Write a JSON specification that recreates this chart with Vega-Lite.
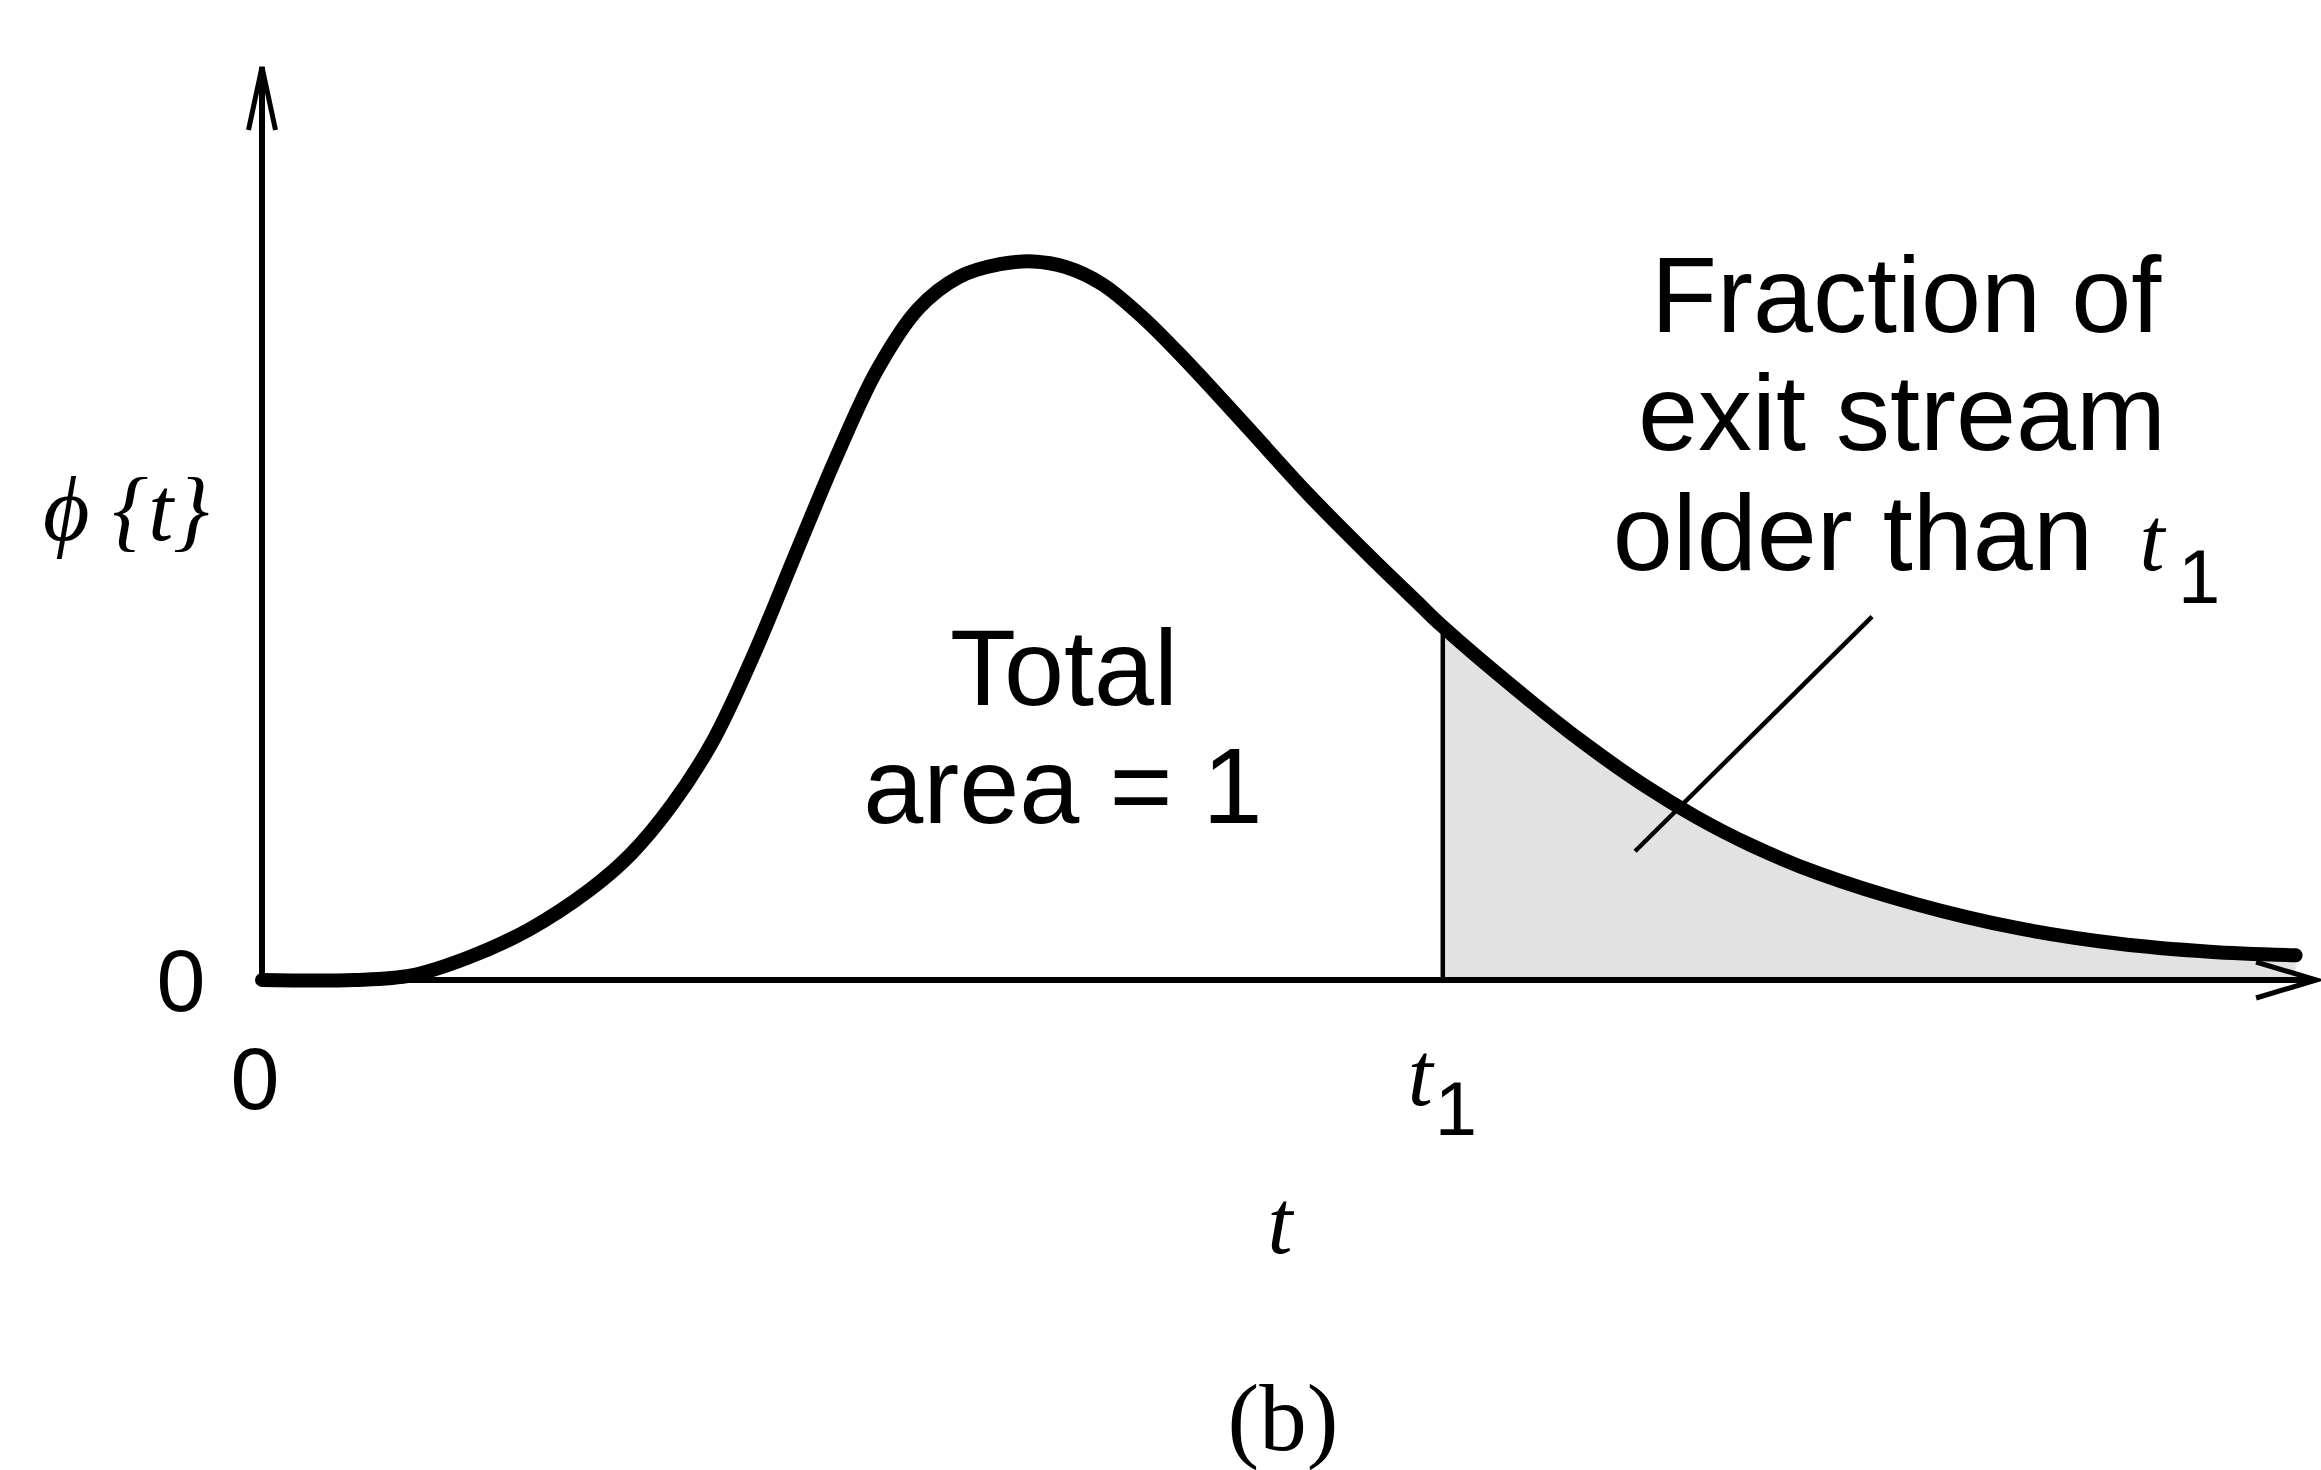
{
  "$schema": "https://vega.github.io/schema/vega-lite/v6.json",
  "width": 2050,
  "height": 913,
  "autosize": {"type": "none"},
  "padding": {"left": 262, "top": 67, "right": 9, "bottom": 490},
  "background": "white",
  "config": {"view": {"stroke": null}},
  "datasets": {
    "curve": [
      {"t": 0, "phi": 0}, {"t": 0.45, "phi": 0.0}, {"t": 0.73, "phi": 0.005}, {"t": 1.0, "phi": 0.024},
      {"t": 1.3, "phi": 0.055}, {"t": 1.6, "phi": 0.099}, {"t": 1.8, "phi": 0.138}, {"t": 2.0, "phi": 0.192},
      {"t": 2.2, "phi": 0.262}, {"t": 2.4, "phi": 0.357}, {"t": 2.6, "phi": 0.465}, {"t": 2.8, "phi": 0.572},
      {"t": 3.0, "phi": 0.668}, {"t": 3.2, "phi": 0.735}, {"t": 3.4, "phi": 0.77}, {"t": 3.6, "phi": 0.784},
      {"t": 3.76, "phi": 0.787}, {"t": 3.92, "phi": 0.781}, {"t": 4.1, "phi": 0.762}, {"t": 4.3, "phi": 0.725},
      {"t": 4.5, "phi": 0.68}, {"t": 4.8, "phi": 0.607}, {"t": 5.1, "phi": 0.533}, {"t": 5.4, "phi": 0.465},
      {"t": 5.63, "phi": 0.415}, {"t": 5.76, "phi": 0.387}, {"t": 6.12, "phi": 0.318}, {"t": 6.44, "phi": 0.261},
      {"t": 6.75, "phi": 0.212}, {"t": 7.0, "phi": 0.178}, {"t": 7.26, "phi": 0.148}, {"t": 7.59, "phi": 0.117},
      {"t": 8.07, "phi": 0.083}, {"t": 8.56, "phi": 0.057}, {"t": 9.05, "phi": 0.04}, {"t": 9.5, "phi": 0.031},
      {"t": 9.92, "phi": 0.027}
    ],
    "segments": [
      {"kind": "axis", "t": 0, "phi": 0, "t2": 0, "phi2": 1},
      {"kind": "axis", "t": 0, "phi": 0, "t2": 10, "phi2": 0},
      {"kind": "guide", "t": 5.76, "phi": 0, "t2": 5.76, "phi2": 0.382},
      {"kind": "guide", "t": 7.854, "phi": 0.398, "t2": 6.698, "phi2": 0.141}
    ],
    "arrows": [
      {"kind": "up", "t": 0, "phi": 1},
      {"kind": "right", "t": 10.02, "phi": 0}
    ],
    "labels": [
      {"group": "sans", "text": "Total", "t": 3.912, "phi": 0.301},
      {"group": "sans", "text": "area = 1", "t": 3.907, "phi": 0.172},
      {"group": "sans", "text": "Fraction of", "t": 8.02, "phi": 0.71},
      {"group": "sans", "text": "exit stream", "t": 8.0, "phi": 0.581},
      {"group": "sans", "text": "older than", "t": 7.76, "phi": 0.449},
      {"group": "ital", "text": "t", "t": 9.22, "phi": 0.449},
      {"group": "sub", "text": "1", "t": 9.45, "phi": 0.413},
      {"group": "tick", "text": "0", "t": -0.395, "phi": -0.034},
      {"group": "tick", "text": "0", "t": -0.034, "phi": -0.141},
      {"group": "ital", "text": "t", "t": 5.65, "phi": -0.137},
      {"group": "sub", "text": "1", "t": 5.824, "phi": -0.17},
      {"group": "ital", "text": "t", "t": 4.966, "phi": -0.299},
      {"group": "serif", "text": "(b)", "t": 4.98, "phi": -0.515},
      {"group": "ital", "text": "ϕ {t}", "t": -0.663, "phi": 0.482}
    ]
  },
  "encoding": {
    "x": {"field": "t", "type": "quantitative", "scale": {"domain": [0, 10], "nice": false, "zero": false}, "axis": null},
    "y": {"field": "phi", "type": "quantitative", "scale": {"domain": [0, 1], "nice": false, "zero": false}, "axis": null}
  },
  "layer": [
    {
      "data": {"name": "curve"},
      "transform": [{"filter": "datum.t >= 5.75"}],
      "mark": {"type": "area", "color": "#e2e2e2", "interpolate": "catmull-rom"}
    },
    {
      "data": {"name": "segments"},
      "transform": [{"filter": "datum.kind == 'axis'"}],
      "mark": {"type": "rule", "color": "black", "strokeWidth": 6},
      "encoding": {"x2": {"field": "t2"}, "y2": {"field": "phi2"}}
    },
    {
      "data": {"name": "segments"},
      "transform": [{"filter": "datum.kind == 'guide'"}],
      "mark": {"type": "rule", "color": "black", "strokeWidth": 4.5},
      "encoding": {"x2": {"field": "t2"}, "y2": {"field": "phi2"}}
    },
    {
      "data": {"name": "curve"},
      "mark": {"type": "line", "color": "black", "strokeWidth": 14, "interpolate": "catmull-rom", "strokeCap": "round", "strokeJoin": "round"}
    },
    {
      "data": {"name": "arrows"},
      "transform": [{"filter": "datum.kind == 'up'"}],
      "mark": {"type": "point", "shape": "M-0.45,2.1 L0,0 L0.45,2.1", "size": 3600, "filled": false, "strokeWidth": 5, "color": "black", "opacity": 1}
    },
    {
      "data": {"name": "arrows"},
      "transform": [{"filter": "datum.kind == 'right'"}],
      "mark": {"type": "point", "shape": "M-2,-0.6 L0,0 L-2,0.6", "size": 3600, "filled": false, "strokeWidth": 5, "color": "black", "opacity": 1}
    },
    {
      "data": {"name": "labels"},
      "transform": [{"filter": "datum.group == 'sans'"}],
      "mark": {"type": "text", "font": "Liberation Sans", "fontSize": 108, "align": "center", "baseline": "alphabetic", "color": "black"},
      "encoding": {"text": {"field": "text"}}
    },
    {
      "data": {"name": "labels"},
      "transform": [{"filter": "datum.group == 'tick'"}],
      "mark": {"type": "text", "font": "Liberation Sans", "fontSize": 88, "align": "center", "baseline": "alphabetic", "color": "black"},
      "encoding": {"text": {"field": "text"}}
    },
    {
      "data": {"name": "labels"},
      "transform": [{"filter": "datum.group == 'sub'"}],
      "mark": {"type": "text", "font": "Liberation Sans", "fontSize": 76, "align": "center", "baseline": "alphabetic", "color": "black"},
      "encoding": {"text": {"field": "text"}}
    },
    {
      "data": {"name": "labels"},
      "transform": [{"filter": "datum.group == 'ital'"}],
      "mark": {"type": "text", "font": "Liberation Serif", "fontStyle": "italic", "fontSize": 90, "align": "center", "baseline": "alphabetic", "color": "black"},
      "encoding": {"text": {"field": "text"}}
    },
    {
      "data": {"name": "labels"},
      "transform": [{"filter": "datum.group == 'serif'"}],
      "mark": {"type": "text", "font": "Liberation Serif", "fontSize": 95, "align": "center", "baseline": "alphabetic", "color": "black"},
      "encoding": {"text": {"field": "text"}}
    }
  ]
}
